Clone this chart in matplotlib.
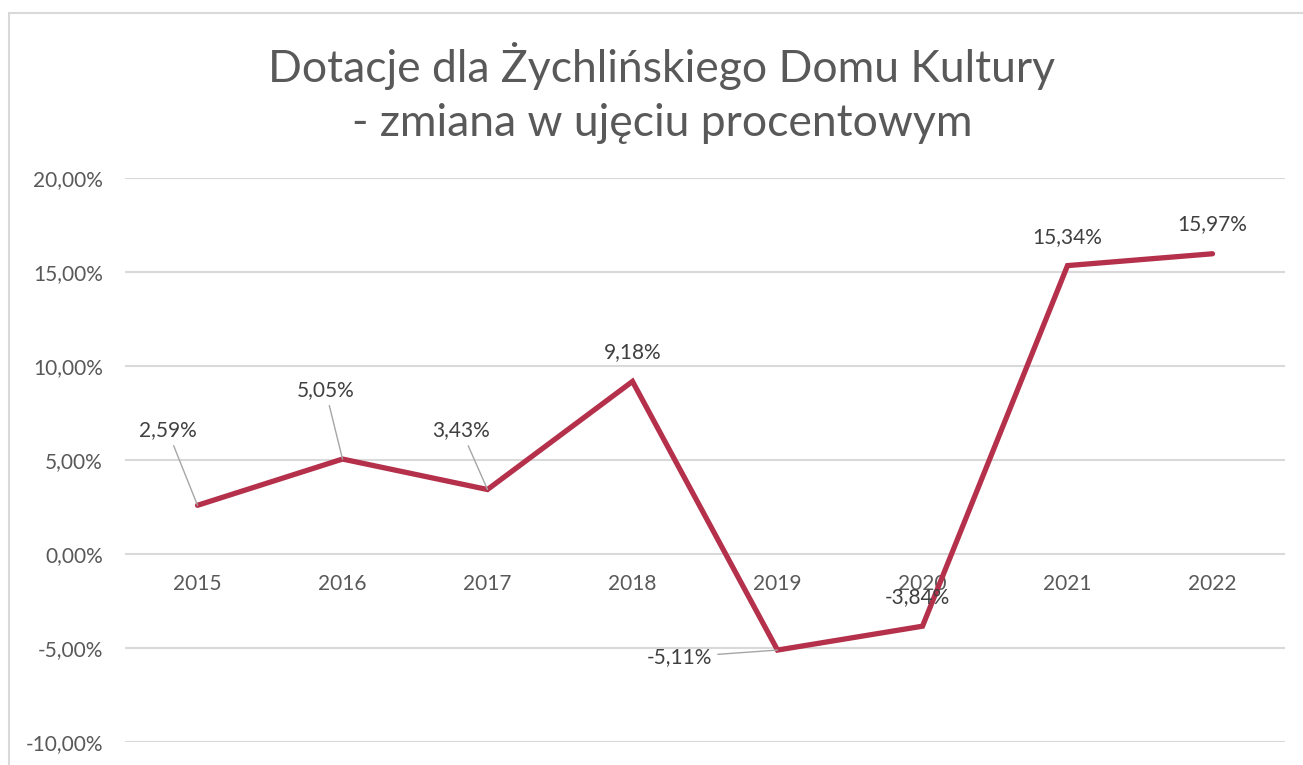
import matplotlib.pyplot as plt
from matplotlib.ticker import FuncFormatter
from matplotlib.patches import Rectangle

# data
years = ["2015", "2016", "2017", "2018", "2019", "2020", "2021", "2022"]
change_pct = [2.59, 5.05, 3.43, 9.18, -5.11, -3.84, 15.34, 15.97]
point_labels = ["2,59%", "5,05%", "3,43%", "9,18%", "-5,11%", "-3,84%", "15,34%", "15,97%"]

# label offsets from the point in pixels (dx, dy), and which ones get a leader line
label_offsets = [(-30, 75), (-17, 69), (-26, 59), (0, 29), (-98, -7), (-5, 29), (0, 29), (0, 30)]
has_leader = [True, True, True, False, True, False, False, False]

title = "Dotacje dla Żychlińskiego Domu Kultury\n- zmiana w ujęciu procentowym"

line_color = "#B4304B"
grid_color = "#D9D9D9"
text_color = "#595959"
label_color = "#404040"

plt.rcParams["font.family"] = ["Lato", "DejaVu Sans"]

fig = plt.figure(figsize=(13.03, 7.65), dpi=100)

# light chart frame like the Excel chart area (cropped on the right and bottom)
fig.patches.append(Rectangle((9 / 1303, -0.1), 1.2, 1 - 13 / 765 + 0.1,
                             transform=fig.transFigure, fill=False,
                             edgecolor=grid_color, linewidth=1.5))

ax = fig.add_axes([125 / 1303, 1 - 742 / 765, (1285 - 125) / 1303, (742 - 178) / 765])

x = list(range(len(years)))
ax.plot(x, change_pct, color=line_color, linewidth=3.8, solid_joinstyle="miter",
        solid_capstyle="round", zorder=3)

ax.set_xlim(-0.5, len(years) - 0.5)
ax.set_ylim(-10, 20)
ax.set_yticks([-10, -5, 0, 5, 10, 15, 20])
ax.yaxis.set_major_formatter(FuncFormatter(lambda v, p: "{:.2f}%".format(v).replace(".", ",")))
ax.grid(axis="y", color=grid_color, linewidth=1.5)
ax.set_axisbelow(True)
for s in ax.spines.values():
    s.set_visible(False)
ax.tick_params(axis="y", length=0, pad=16, labelsize=15, labelcolor=text_color)
ax.set_xticks([])

# category labels sit just under the zero line
for xi, yr in zip(x, years):
    ax.annotate(yr, (xi, 0), xytext=(0, -30), textcoords="offset pixels",
                ha="center", va="center", fontsize=15, color=text_color, zorder=2)

for xi, yi, lab, (dx, dy), lead in zip(x, change_pct, point_labels, label_offsets, has_leader):
    arrow = dict(arrowstyle="-", color="#A6A6A6", linewidth=1.0, shrinkA=2, shrinkB=0) if lead else None
    ax.annotate(lab, (xi, yi), xytext=(dx, dy), textcoords="offset pixels",
                ha="center", va="center", fontsize=15, color=label_color,
                arrowprops=arrow, zorder=4)

fig.text(0.508, 1 - 93 / 765, title, ha="center", va="center", fontsize=32,
         color=text_color, linespacing=1.38)

fig.savefig("out.png", dpi=100)
